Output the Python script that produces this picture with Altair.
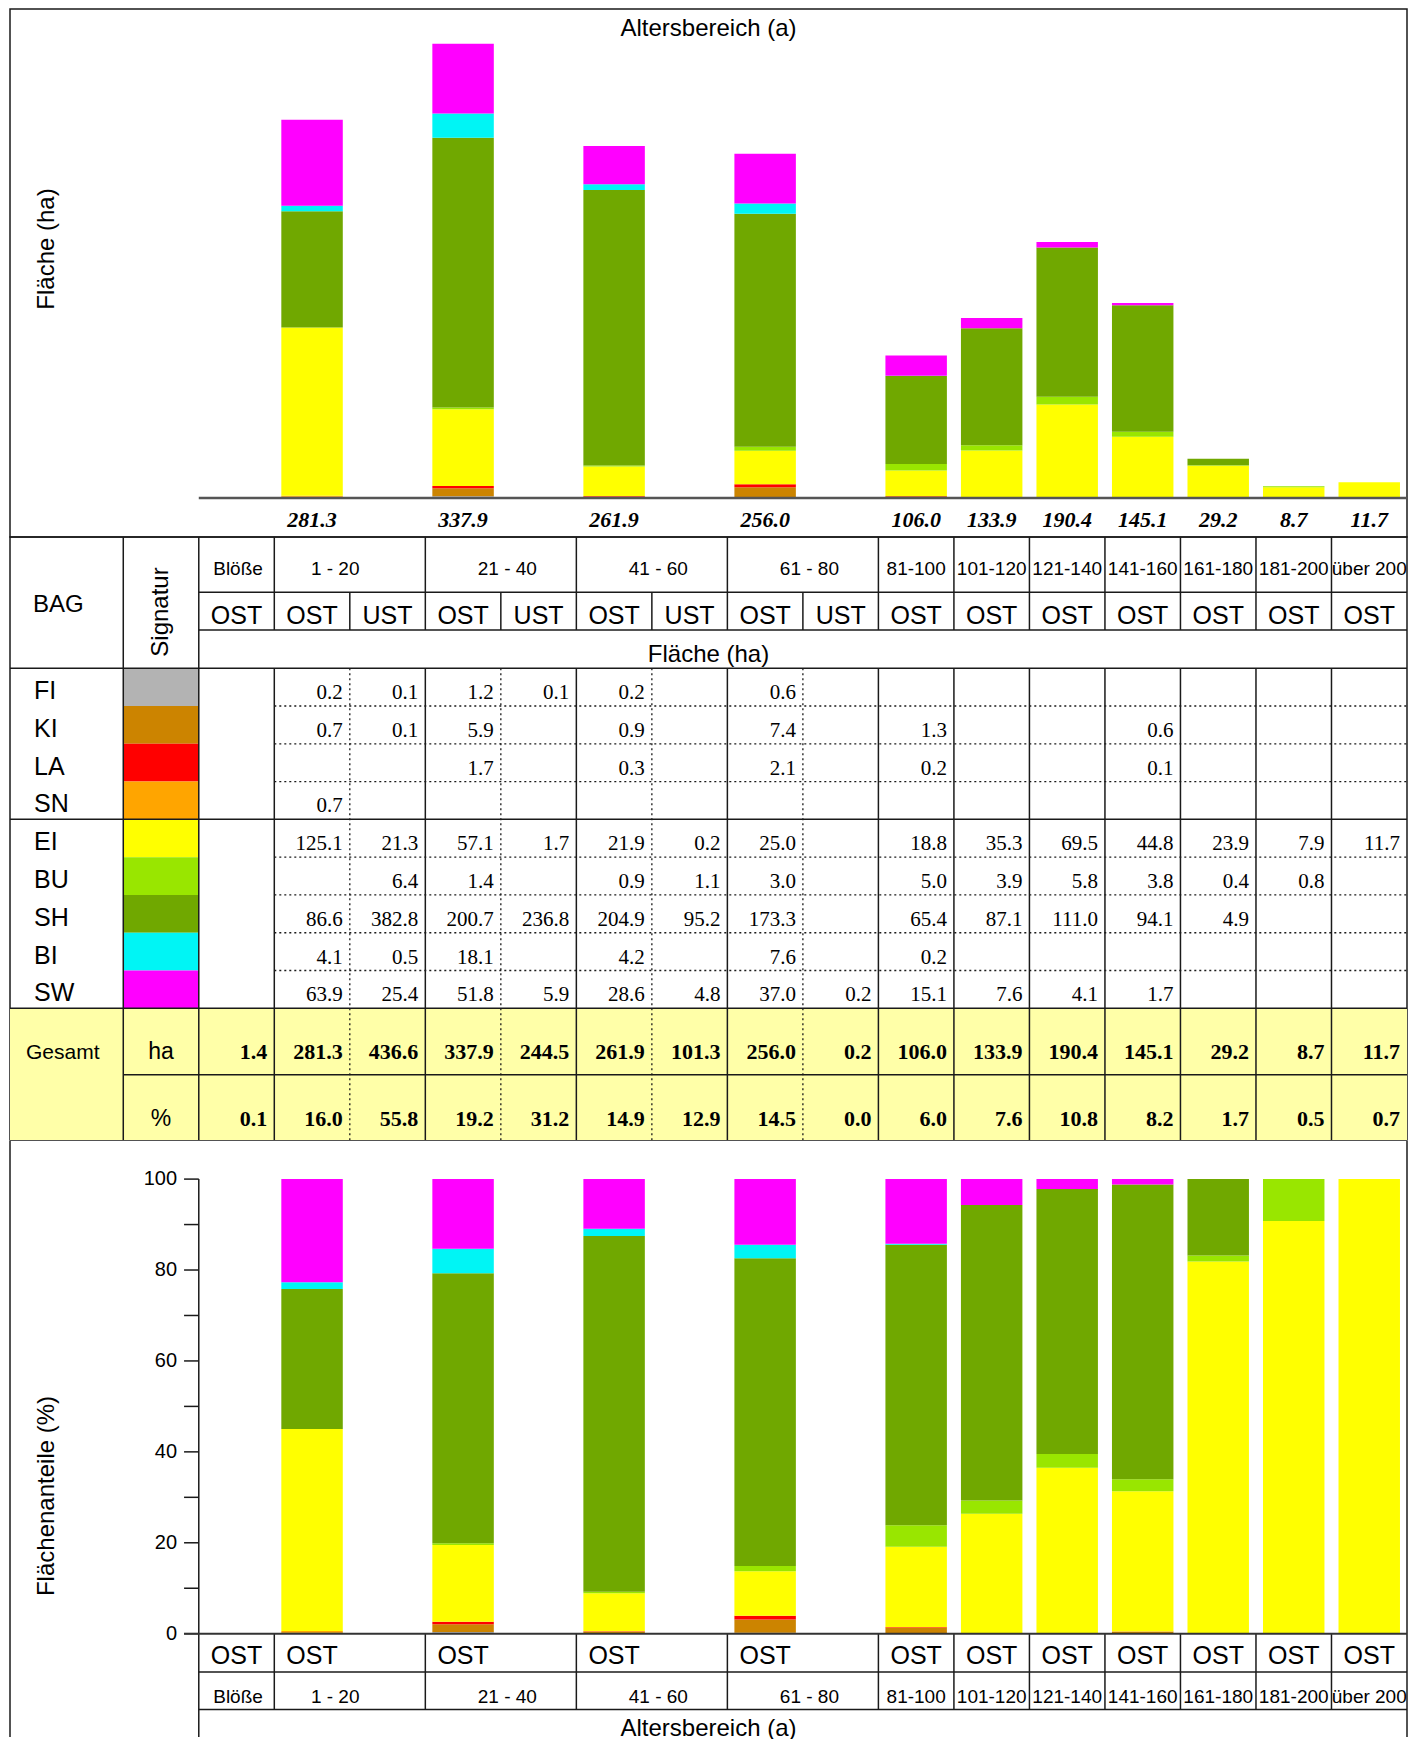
import altair as alt
import pandas as pd

# ---------------- data ----------------
species = ["FI", "KI", "LA", "SN", "EI", "BU", "SH", "BI", "SW"]
species_colors = ["#B3B3B3", "#CC8400", "#FF0000", "#FFA500", "#FFFF00",
                  "#99E600", "#70A800", "#00F5F5", "#FF00FF"]

age_groups = ["Blöße", "1 - 20", "21 - 40", "41 - 60", "61 - 80", "81-100", "101-120",
              "121-140", "141-160", "161-180", "181-200", "über 200"]
group_stands = [["OST"], ["OST", "UST"], ["OST", "UST"], ["OST", "UST"], ["OST", "UST"],
                ["OST"], ["OST"], ["OST"], ["OST"], ["OST"], ["OST"], ["OST"]]

N = None
val_FI = [N, 0.2, 0.1, 1.2, 0.1, 0.2, N, 0.6, N, N, N, N, N, N, N, N]
val_KI = [N, 0.7, 0.1, 5.9, N, 0.9, N, 7.4, N, 1.3, N, N, 0.6, N, N, N]
val_LA = [N, N, N, 1.7, N, 0.3, N, 2.1, N, 0.2, N, N, 0.1, N, N, N]
val_SN = [N, 0.7, N, N, N, N, N, N, N, N, N, N, N, N, N, N]
val_EI = [N, 125.1, 21.3, 57.1, 1.7, 21.9, 0.2, 25.0, N, 18.8, 35.3, 69.5, 44.8, 23.9, 7.9, 11.7]
val_BU = [N, N, 6.4, 1.4, N, 0.9, 1.1, 3.0, N, 5.0, 3.9, 5.8, 3.8, 0.4, 0.8, N]
val_SH = [N, 86.6, 382.8, 200.7, 236.8, 204.9, 95.2, 173.3, N, 65.4, 87.1, 111.0, 94.1, 4.9, N, N]
val_BI = [N, 4.1, 0.5, 18.1, N, 4.2, N, 7.6, N, 0.2, N, N, N, N, N, N]
val_SW = [N, 63.9, 25.4, 51.8, 5.9, 28.6, 4.8, 37.0, 0.2, 15.1, 7.6, 4.1, 1.7, N, N, N]
total_ha = [1.4, 281.3, 436.6, 337.9, 244.5, 261.9, 101.3, 256.0, 0.2, 106.0, 133.9,
            190.4, 145.1, 29.2, 8.7, 11.7]
total_pct = [0.1, 16.0, 55.8, 19.2, 31.2, 14.9, 12.9, 14.5, 0.0, 6.0, 7.6, 10.8, 8.2,
             1.7, 0.5, 0.7]
pct_ticks = list(range(0, 101, 10))
pct_labels = list(range(0, 101, 20))

values = {"FI": val_FI, "KI": val_KI, "LA": val_LA, "SN": val_SN, "EI": val_EI,
          "BU": val_BU, "SH": val_SH, "BI": val_BI, "SW": val_SW}

# ---------------- layout ----------------
W = 1397
X_DOMAIN = [-2.5, 16]
COLW = W / (X_DOMAIN[1] - X_DOMAIN[0])
SANS = "Liberation Sans"
SERIF = "Liberation Serif"
LINE = "#1a1a1a"
xs = alt.Scale(domain=X_DOMAIN, nice=False, zero=False)
color_scale = alt.Scale(domain=species, range=species_colors)
# small horizontal nudges (px) of the age-class labels, as in the original layout
age_nudge_px = [1.5, -14.6, 6.5, 6.5, 6.5, 0, 0, 0, 0, 0, 0, 0]

columns = []
group_start = []
c = 0
for gi, stands in enumerate(group_stands):
    group_start.append(c)
    for s in stands:
        columns.append((c, gi, s))
        c += 1
NCOL = c

cell_rows = []
for k, sp in enumerate(species):
    for ci in range(NCOL):
        v = values[sp][ci]
        if v is not None:
            cell_rows.append(dict(c=ci, k=k, sp=sp, v=v))
cells = pd.DataFrame(cell_rows)

bar_cols = [ci for ci, gi, s in columns if gi > 0 and s == "OST"]
bars = cells[cells.c.isin(bar_cols)].copy()
age_x = [group_start[gi] + len(group_stands[gi]) / 2 + age_nudge_px[gi] / COLW
         for gi in range(len(age_groups))]


def X(f):
    return alt.X(f, type="quantitative", scale=xs, axis=None)


def text(df, yscale, size, font=SANS, align="center", weight="normal", style="normal",
         dy=0, dx=0, angle=0, baseline="alphabetic", xfield="x", yfield="y", tfield="t:N",
         xval=None, yval=None):
    enc = {}
    enc["x"] = alt.value(xval) if xval is not None else X(xfield + ":Q")
    enc["y"] = alt.value(yval) if yval is not None else alt.Y(yfield + ":Q", scale=yscale, axis=None)
    enc["text"] = tfield
    return alt.Chart(df).mark_text(fontSize=size, font=font, align=align, fontWeight=weight,
                                   fontStyle=style, dy=dy, dx=dx, angle=angle,
                                   baseline=baseline, color="black").encode(**enc)


def rules(segs, yscale, width=1.5, dash=None, color=LINE):
    kw = dict(color=color, strokeWidth=width)
    if dash:
        kw["strokeDash"] = dash
    return alt.Chart(pd.DataFrame(segs)).mark_rule(**kw).encode(
        x=X("x0:Q"), x2="x1:Q",
        y=alt.Y("y0:Q", scale=yscale, axis=None), y2="y1:Q")


def seg(lst, x0, x1, y0, y1):
    lst.append(dict(x0=x0, x1=x1, y0=y0, y1=y1))


# ---------------- top panel: stacked ha ----------------
H1 = 528
BASE1 = 488.9
PX_HA = 1.344
y1 = alt.Scale(domain=[-(H1 - BASE1) / PX_HA, BASE1 / PX_HA], nice=False, zero=False)

top_bars = alt.Chart(bars).transform_stack(
    stack="v", groupby=["c"], sort=[alt.SortField("k", order="ascending")], as_=["s0", "s1"]
).transform_calculate(xa="datum.c + 0.093", xb="datum.c + 0.907").mark_rect().encode(
    x=X("xa:Q"), x2="xb:Q",
    y=alt.Y("s0:Q", scale=y1, axis=None), y2="s1:Q",
    color=alt.Color("sp:N", scale=color_scale, legend=None))

base_seg = []
seg(base_seg, 0, NCOL, 0, 0)
top_base = rules(base_seg, y1, width=2.5, color="#555555")

top_tot = pd.DataFrame({"c": bar_cols, "v": [total_ha[ci] for ci in bar_cols]})
top_totals = alt.Chart(top_tot).transform_calculate(xc="datum.c + 0.5", yb="0").mark_text(
    font=SERIF, fontSize=22, fontWeight="bold", fontStyle="italic", dy=22,
    baseline="middle", color="black").encode(
    x=X("xc:Q"), y=alt.Y("yb:Q", scale=y1, axis=None), text=alt.Text("v:Q", format=".1f"))

top_title = text(pd.DataFrame({"t": ["Altersbereich (a)"]}), y1, 24, xval=W / 2, yval=20,
                 baseline="middle")
top_ytitle = text(pd.DataFrame({"t": ["Fläche (ha)"]}), y1, 24, xval=36.7, yval=240,
                  angle=270, baseline="middle")

top = alt.layer(top_bars, top_base, top_totals, top_title, top_ytitle).properties(
    width=W, height=H1, view=alt.ViewBackground(stroke=LINE, strokeWidth=1.5))

# ---------------- table panel ----------------
rows_h = [55.3, 37.6, 38.3] + [37.79] * 9 + [66.4, 65.3]
rb = [0.0]
for h in rows_h:
    rb.append(rb[-1] + h)
H2 = rb[-1]
y2s = alt.Scale(domain=[0, H2], reverse=True, nice=False, zero=False)

bg = pd.DataFrame([dict(x0=X_DOMAIN[0], x1=NCOL, y0=rb[12], y1=H2)])
tbl_bg = alt.Chart(bg).mark_rect(color="#FFFFA8").encode(
    x=X("x0:Q"), x2="x1:Q", y=alt.Y("y0:Q", scale=y2s, axis=None), y2="y1:Q")

sw = pd.DataFrame([dict(x0=-1, x1=0, y0=rb[3 + k], y1=rb[4 + k], sp=sp)
                   for k, sp in enumerate(species)])
tbl_sw = alt.Chart(sw).mark_rect().encode(
    x=X("x0:Q"), x2="x1:Q", y=alt.Y("y0:Q", scale=y2s, axis=None), y2="y1:Q",
    color=alt.Color("sp:N", scale=color_scale, legend=None))

solid = []
seg(solid, 0, NCOL, rb[1], rb[1])
seg(solid, 0, NCOL, rb[2], rb[2])
seg(solid, X_DOMAIN[0], NCOL, rb[3], rb[3])
seg(solid, X_DOMAIN[0], NCOL, rb[7], rb[7])
seg(solid, X_DOMAIN[0], NCOL, rb[12], rb[12])
seg(solid, -1, NCOL, rb[13], rb[13])
seg(solid, -1, -1, 0, H2)
seg(solid, 0, 0, 0, H2)
for gi in range(1, len(age_groups)):
    s0 = group_start[gi]
    seg(solid, s0, s0, 0, rb[2])
    seg(solid, s0, s0, rb[3], H2)
inner = [ci for ci, gi, s in columns if s == "UST"]
for ci in inner:
    seg(solid, ci, ci, rb[1], rb[2])
dotted = []
for r in range(4, 12):
    if r != 7:
        seg(dotted, 1, NCOL, rb[r], rb[r])
for ci in inner:
    seg(dotted, ci, ci, rb[3], H2)

tbl_solid = rules(solid, y2s, width=1.5)
tbl_dotted = rules(dotted, y2s, width=1.3, dash=[2, 3])

hdr_age = pd.DataFrame({"x": age_x, "y": [rb[1]] * len(age_groups), "t": age_groups})
hdr_std = pd.DataFrame({"x": [ci + 0.5 for ci, gi, s in columns],
                        "y": [rb[2]] * NCOL, "t": [s for ci, gi, s in columns]})
sp_names = pd.DataFrame({"y": [rb[4 + k] for k in range(len(species))], "t": species})

cells_t = cells.copy()
cells_t["x"] = cells_t.c + 1
cells_t["y"] = [rb[4 + k] for k in cells_t.k]

tot_df = pd.DataFrame({"x": [ci + 1 for ci in range(NCOL)], "ha": total_ha, "pct": total_pct,
                       "yh": [rb[13]] * NCOL, "yp": [H2] * NCOL})

t_age = text(hdr_age, y2s, 19, dy=-17.8)
t_std = text(hdr_std, y2s, 25, dy=-6)
t_flaeche = text(pd.DataFrame({"t": ["Fläche (ha)"], "y": [rb[3]]}), y2s, 24, xval=W / 2, dy=-6.7)
t_bag = text(pd.DataFrame({"t": ["BAG"], "y": [75]}), y2s, 24, xval=23, align="left")
t_sig = text(pd.DataFrame({"t": ["Signatur"], "x": [-0.5], "y": [75]}), y2s, 24, angle=270,
             baseline="middle")
t_sp = text(sp_names, y2s, 25, xval=24, align="left", dy=-7)
t_vals = alt.Chart(cells_t).mark_text(font=SERIF, fontSize=21, align="right", dx=-7, dy=-7,
                                      baseline="alphabetic", color="black").encode(
    x=X("x:Q"), y=alt.Y("y:Q", scale=y2s, axis=None), text=alt.Text("v:Q", format=".1f"))
t_ges = text(pd.DataFrame({"t": ["Gesamt"], "y": [rb[13]]}), y2s, 21, xval=16, align="left", dy=-15.7)
t_ha = text(pd.DataFrame({"t": ["ha"], "x": [-0.5], "y": [rb[13]]}), y2s, 23, dy=-15.7)
t_pc = text(pd.DataFrame({"t": ["%"], "x": [-0.5], "y": [H2]}), y2s, 23, dy=-14)
t_totha = alt.Chart(tot_df).mark_text(font=SERIF, fontSize=22, fontWeight="bold", align="right",
                                      dx=-7, dy=-15.7, baseline="alphabetic", color="black").encode(
    x=X("x:Q"), y=alt.Y("yh:Q", scale=y2s, axis=None), text=alt.Text("ha:Q", format=".1f"))
t_totpc = alt.Chart(tot_df).mark_text(font=SERIF, fontSize=22, fontWeight="bold", align="right",
                                      dx=-7, dy=-14, baseline="alphabetic", color="black").encode(
    x=X("x:Q"), y=alt.Y("yp:Q", scale=y2s, axis=None), text=alt.Text("pct:Q", format=".1f"))

table = alt.layer(tbl_bg, tbl_sw, tbl_dotted, tbl_solid, t_age, t_std, t_flaeche, t_bag, t_sig,
                  t_sp, t_vals, t_ges, t_ha, t_pc, t_totha, t_totpc).properties(
    width=W, height=H2, view=alt.ViewBackground(stroke=LINE, strokeWidth=1.5))

# ---------------- bottom panel: percentages ----------------
H3 = 596
TOP100 = 38.1
PX_PCT = 4.546
Y3_MIN = 100 - (H3 - TOP100) / PX_PCT
Y3_MAX = 100 + TOP100 / PX_PCT
y3 = alt.Scale(domain=[Y3_MIN, Y3_MAX], nice=False, zero=False)


def below0(px):
    return -px / PX_PCT


ROW_OST = 38.3
ROW_AGE = 75.8
TICK = -0.195

bot_bars = alt.Chart(bars).transform_joinaggregate(
    tot="sum(v)", groupby=["c"]
).transform_calculate(p="100 * datum.v / datum.tot").transform_stack(
    stack="p", groupby=["c"], sort=[alt.SortField("k", order="ascending")], as_=["p0", "p1"]
).transform_calculate(xa="datum.c + 0.093", xb="datum.c + 0.907").mark_rect().encode(
    x=X("xa:Q"), x2="xb:Q",
    y=alt.Y("p0:Q", scale=y3, axis=None), y2="p1:Q",
    color=alt.Color("sp:N", scale=color_scale, legend=None))

ticks = alt.Chart(pd.DataFrame({"v": pct_ticks})).transform_calculate(
    a=str(TICK), b="0").mark_rule(color=LINE, strokeWidth=1.5).encode(
    x=X("a:Q"), x2="b:Q", y=alt.Y("v:Q", scale=y3, axis=None))
tick_lab = alt.Chart(pd.DataFrame({"v": pct_labels})).transform_calculate(a=str(TICK)).mark_text(
    font=SANS, fontSize=20, align="right", dx=-7, baseline="middle", color="black").encode(
    x=X("a:Q"), y=alt.Y("v:Q", scale=y3, axis=None), text=alt.Text("v:Q", format="d"))

bsolid = []
seg(bsolid, 0, 0, 100, Y3_MIN)
seg(bsolid, X_DOMAIN[0], X_DOMAIN[0], Y3_MAX, Y3_MIN)
seg(bsolid, NCOL, NCOL, Y3_MAX, Y3_MIN)
seg(bsolid, 0, NCOL, below0(ROW_OST), below0(ROW_OST))
seg(bsolid, 0, NCOL, below0(ROW_AGE), below0(ROW_AGE))
for gi in range(1, len(age_groups)):
    s0 = group_start[gi]
    seg(bsolid, s0, s0, 0, below0(ROW_AGE))
b_lines = rules(bsolid, y3, width=1.5)
zseg = []
seg(zseg, TICK, NCOL, 0, 0)
b_zero = rules(zseg, y3, width=2.0, color="#333333")

ost_cols = [ci for ci, gi, s in columns if s == "OST"]
b_ost = text(pd.DataFrame({"x": [ci + 0.5 for ci in ost_cols], "y": [below0(ROW_OST)] * len(ost_cols),
                           "t": ["OST"] * len(ost_cols)}), y3, 25, dy=-7.6)
b_age = text(pd.DataFrame({"x": age_x, "y": [below0(ROW_AGE)] * len(age_groups), "t": age_groups}),
             y3, 19, dy=-6.8)
b_title = text(pd.DataFrame({"t": ["Altersbereich (a)"]}), y3, 24, xval=W / 2, yval=H3 - 1)
b_ytitle = text(pd.DataFrame({"t": ["Flächenanteile (%)"]}), y3, 24, xval=36.7, yval=355,
                angle=270, baseline="middle")

bottom = alt.layer(bot_bars, ticks, tick_lab, b_lines, b_zero, b_ost, b_age, b_title,
                   b_ytitle).properties(width=W, height=H3)

chart = alt.vconcat(top, table, bottom, spacing=0, bounds="flush").properties(
    padding=0).configure_view(strokeWidth=0)

chart.save("out.html", embed_options={"renderer": "svg", "actions": False})
